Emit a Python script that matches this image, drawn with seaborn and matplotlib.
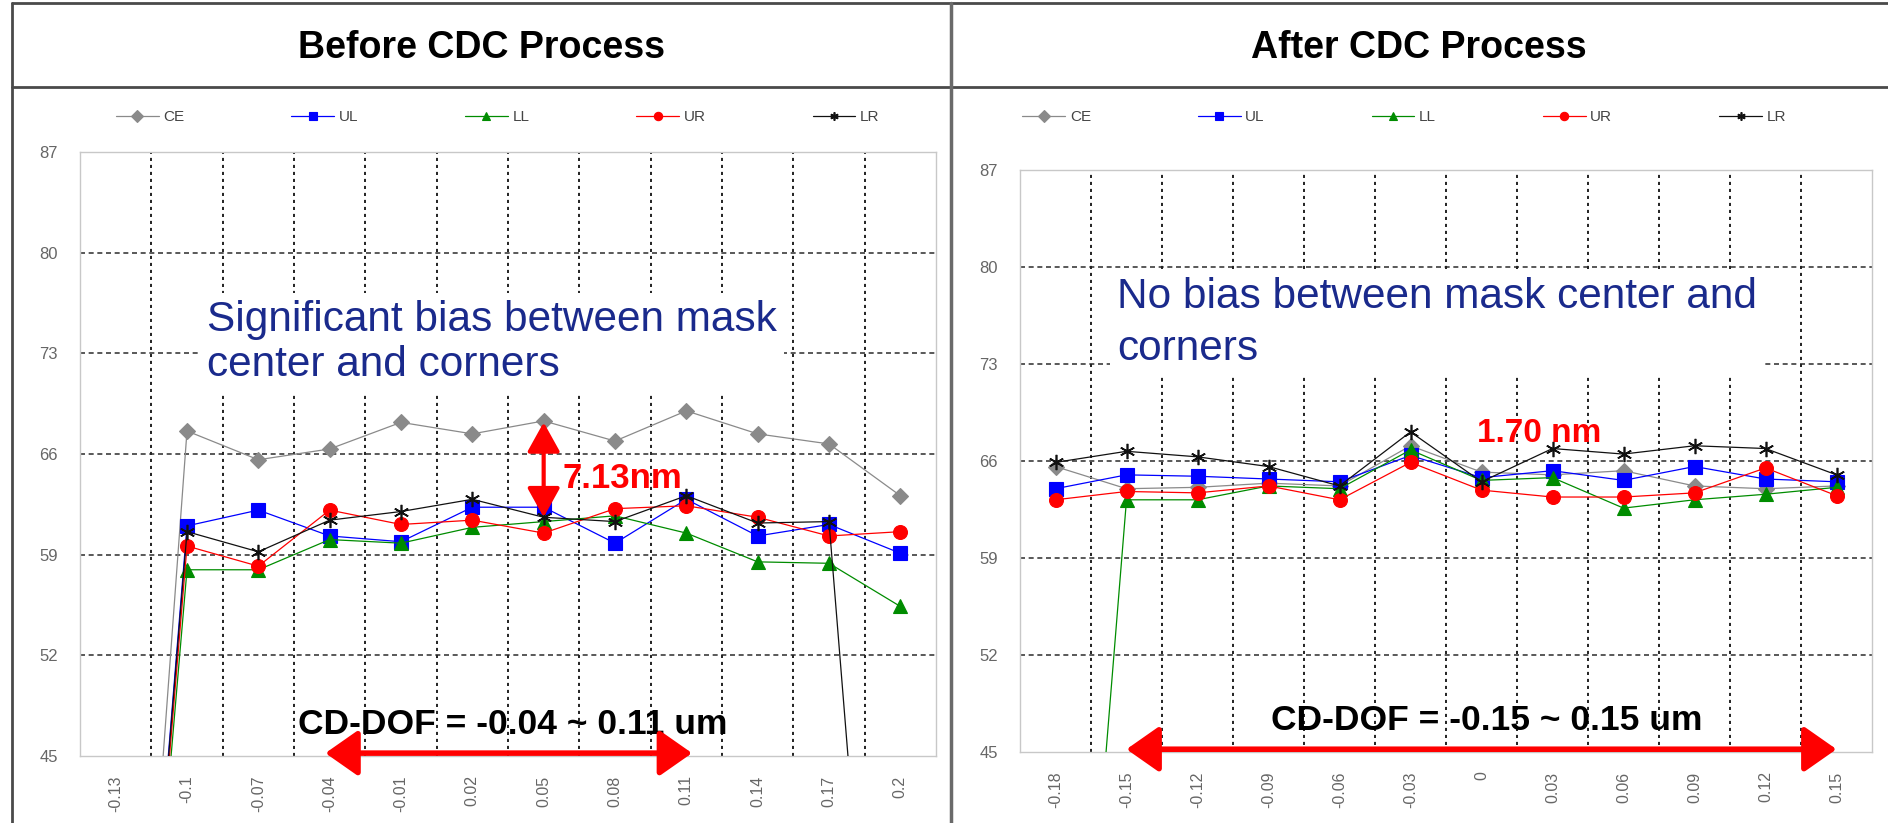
import numpy as np
import pandas as pd
import matplotlib
matplotlib.use("Agg")
import matplotlib.pyplot as plt
from matplotlib.lines import Line2D
import seaborn as sns

# ---------------- data ----------------
series = ["CE", "UL", "LL", "UR", "LR"]

before_cats = ["-0.13", "-0.1", "-0.07", "-0.04", "-0.01", "0.02", "0.05", "0.08", "0.11", "0.14", "0.17", "0.2"]
before_CE = [0, 67.6, 65.6, 66.35, 68.2, 67.4, 68.3, 66.9, 69.0, 67.4, 66.7, 63.1]
before_UL = [0, 61.0, 62.1, 60.3, 59.9, 62.3, 62.3, 59.8, 62.85, 60.3, 61.1, 59.1]
before_LL = [0, 57.95, 57.95, 60.05, 59.8, 60.9, 61.3, 61.7, 60.5, 58.5, 58.4, 55.4]
before_UR = [0, 59.6, 58.2, 62.1, 61.1, 61.4, 60.5, 62.2, 62.4, 61.6, 60.3, 60.6]
before_LR = [0, 60.6, 59.2, 61.4, 62.0, 62.85, 61.6, 61.3, 63.1, 61.2, 61.3, 0]

after_cats = ["-0.18", "-0.15", "-0.12", "-0.09", "-0.06", "-0.03", "0", "0.03", "0.06", "0.09", "0.12", "0.15"]
after_CE = [65.6, 64.0, 64.1, 64.4, 64.2, 67.1, 65.2, 65.0, 65.3, 64.2, 64.0, 64.2]
after_UL = [64.0, 65.0, 64.9, 64.7, 64.5, 66.4, 64.8, 65.3, 64.6, 65.6, 64.7, 64.5]
after_LL = [0, 63.2, 63.2, 64.2, 64.0, 66.8, 64.6, 64.8, 62.6, 63.2, 63.6, 64.1]
after_UR = [63.2, 63.8, 63.7, 64.2, 63.2, 65.9, 63.9, 63.4, 63.4, 63.7, 65.5, 63.5]
after_LR = [65.9, 66.7, 66.3, 65.6, 64.2, 68.1, 64.5, 66.9, 66.5, 67.1, 66.9, 65.0]

y_ticks = [45, 52, 59, 66, 73, 80, 87]

titles = ["Before CDC Process", "After CDC Process"]
notes = ["Significant bias between mask\ncenter and corners", "No bias between mask center and\ncorners"]
dof_labels = ["CD-DOF = -0.04 ~ 0.11 um", "CD-DOF = -0.15 ~ 0.15 um"]
dof_ranges = [("-0.04", "0.11"), ("-0.15", "0.15")]
gap_label_before = "7.13nm"
gap_before = ("0.05", 68.2, 61.6)
gap_label_after = "1.70 nm"

# ---------------- style ----------------
sns.set_theme(style="white")
plt.rcParams["font.family"] = ["Liberation Sans", "DejaVu Sans"]

palette = {"CE": "#8a8a8a", "UL": "#0000ff", "LL": "#008c00", "UR": "#ff0000", "LR": "#111111"}
markers = {"CE": "D", "UL": "s", "LL": "^", "UR": "o", "LR": "*"}
msizes = {"CE": 8.5, "UL": 10, "LL": 10, "UR": 10, "LR": 11}
navy = "#1a2a8c"

W, H = 1888, 823
fig = plt.figure(figsize=(W / 100, H / 100), dpi=100)
fig.patch.set_facecolor("white")


def fx(px):
    return px / W


def fy(py):
    return 1 - py / H


axL = fig.add_axes([fx(80), fy(756), (936 - 80) / W, (756 - 152) / H])
axR = fig.add_axes([fx(1020), fy(752), (1872 - 1020) / W, (752 - 170) / H])


def draw(ax, cats, data, leg_x, leg_y, colsp):
    rows = []
    for s in series:
        for i, v in enumerate(data[s]):
            rows.append({"pos": i, "series": s, "cd": v})
    df = pd.DataFrame(rows)
    sns.lineplot(data=df, x="pos", y="cd", hue="series", style="series",
                 hue_order=series, style_order=series, palette=palette,
                 markers=markers, dashes=False, linewidth=0.9, sort=False,
                 errorbar=None, ax=ax, legend=False, zorder=4)
    lines = list(ax.lines)
    for ln, s in zip(lines, series):
        if s == "LR":
            ln.set_marker((6, 2, 0))
        ln.set_markeredgecolor(palette[s])
        ln.set_markerfacecolor(palette[s])
        ln.set_markeredgewidth(1.2 if s == "LR" else 0.8)
        ln.set_markersize(msizes[s])

    ax.set_xlim(-0.5, len(cats) - 0.5)
    ax.set_ylim(y_ticks[0], y_ticks[-1])
    ax.set_yticks(y_ticks)
    ax.set_yticklabels([str(t) for t in y_ticks], color="#666666", fontsize=12)
    ax.set_xticks(range(len(cats)))
    ax.set_xticklabels(cats, rotation=90, color="#666666", fontsize=11.5)
    ax.tick_params(axis="both", length=0)
    ax.tick_params(axis="y", pad=16)
    ax.tick_params(axis="x", pad=14)
    ax.set_xlabel("")
    ax.set_ylabel("")
    for sp in ax.spines.values():
        sp.set_color("#c8c8c8")
        sp.set_linewidth(1.0)
    # gridlines
    for v in y_ticks[1:-1]:
        ax.axhline(v, color="#3c3c3c", lw=1.2, ls=(0, (3, 2.2)), zorder=1)
    for k in range(len(cats) - 1):
        ax.axvline(k + 0.5, color="#222222", lw=1.4, ls=(0, (1.6, 2.0)), zorder=1)

    leg = ax.legend(handles=lines, labels=series, loc="center",
                    bbox_to_anchor=(leg_x, leg_y), ncol=5, frameon=False,
                    fontsize=11, handlelength=2.8, handletextpad=0.3,
                    columnspacing=colsp, labelcolor="#444444")
    for h in leg.legend_handles:
        h.set_markersize(6)


data_before = dict(zip(series, [before_CE, before_UL, before_LL, before_UR, before_LR]))
data_after = dict(zip(series, [after_CE, after_UL, after_LL, after_UR, after_LR]))

draw(axL, before_cats, data_before, 0.488, 1.058, 7.0)
draw(axR, after_cats, data_after, 0.451, 1.091, 7.0)

# ---------- annotations: left ----------
axL.text(1.28, 76.7, notes[0], color=navy, fontsize=30.5, ha="left", va="top",
         linespacing=1.15, zorder=3,
         bbox=dict(facecolor="white", edgecolor="none", pad=5))
xg = before_cats.index(gap_before[0])
axL.annotate("", xy=(xg, gap_before[2]), xytext=(xg, gap_before[1]),
             arrowprops=dict(arrowstyle="<|-|>,head_length=0.45,head_width=0.25",
                             color="#ff0000", lw=3, mutation_scale=40,
                             shrinkA=0, shrinkB=0), zorder=6)
axL.text(xg + 0.27, 64.3, gap_label_before, color="#ff0000", fontsize=25,
         fontweight="bold", ha="left", va="center", zorder=6)
axL.text(5.56, 47.2, dof_labels[0], color="black", fontsize=25.5,
         fontweight="bold", ha="center", va="center", zorder=6)
a0, a1 = before_cats.index(dof_ranges[0][0]), before_cats.index(dof_ranges[0][1])
axL.annotate("", xy=(a1 + 0.08, 45.2), xytext=(a0 - 0.06, 45.2), annotation_clip=False,
             arrowprops=dict(arrowstyle="<|-|>,head_length=0.5,head_width=0.35",
                             color="#ff0000", lw=4, mutation_scale=40,
                             shrinkA=0, shrinkB=0, clip_on=False), zorder=7)

# ---------- annotations: right ----------
axR.text(0.87, 79.3, notes[1], color=navy, fontsize=30.5, ha="left", va="top",
         linespacing=1.4, zorder=3,
         bbox=dict(facecolor="white", edgecolor="none", pad=5))
axR.text(5.94, 68.0, gap_label_after, color="#ff0000", fontsize=24,
         fontweight="bold", ha="left", va="center", zorder=6)
axR.text(6.08, 47.3, dof_labels[1], color="black", fontsize=25.5,
         fontweight="bold", ha="center", va="center", zorder=6)
b0, b1 = after_cats.index(dof_ranges[1][0]), after_cats.index(dof_ranges[1][1])
axR.annotate("", xy=(b1, 45.2), xytext=(b0, 45.2), annotation_clip=False,
             arrowprops=dict(arrowstyle="<|-|>,head_length=0.5,head_width=0.35",
                             color="#ff0000", lw=4, mutation_scale=40,
                             shrinkA=0, shrinkB=0, clip_on=False), zorder=7)

# ---------- titles and frame ----------
fig.text(fx(481), fy(48), titles[0], ha="center", va="center", fontsize=27,
         fontweight="bold", color="black")
fig.text(fx(1419), fy(48), titles[1], ha="center", va="center", fontsize=27,
         fontweight="bold", color="black")

frame_kw = dict(color="#4a4a4a", lw=2.0, transform=fig.transFigure)
fig.add_artist(Line2D([fx(12), 1], [fy(3), fy(3)], **frame_kw))
fig.add_artist(Line2D([fx(12), 1], [fy(87), fy(87)], **frame_kw))
fig.add_artist(Line2D([fx(12), fx(12)], [0, fy(3)], **frame_kw))
fig.add_artist(Line2D([fx(951), fx(951)], [0, fy(3)], color="#6a6a6a", lw=2.5,
                      transform=fig.transFigure))

fig.savefig("out.png", dpi=100, facecolor="white")
